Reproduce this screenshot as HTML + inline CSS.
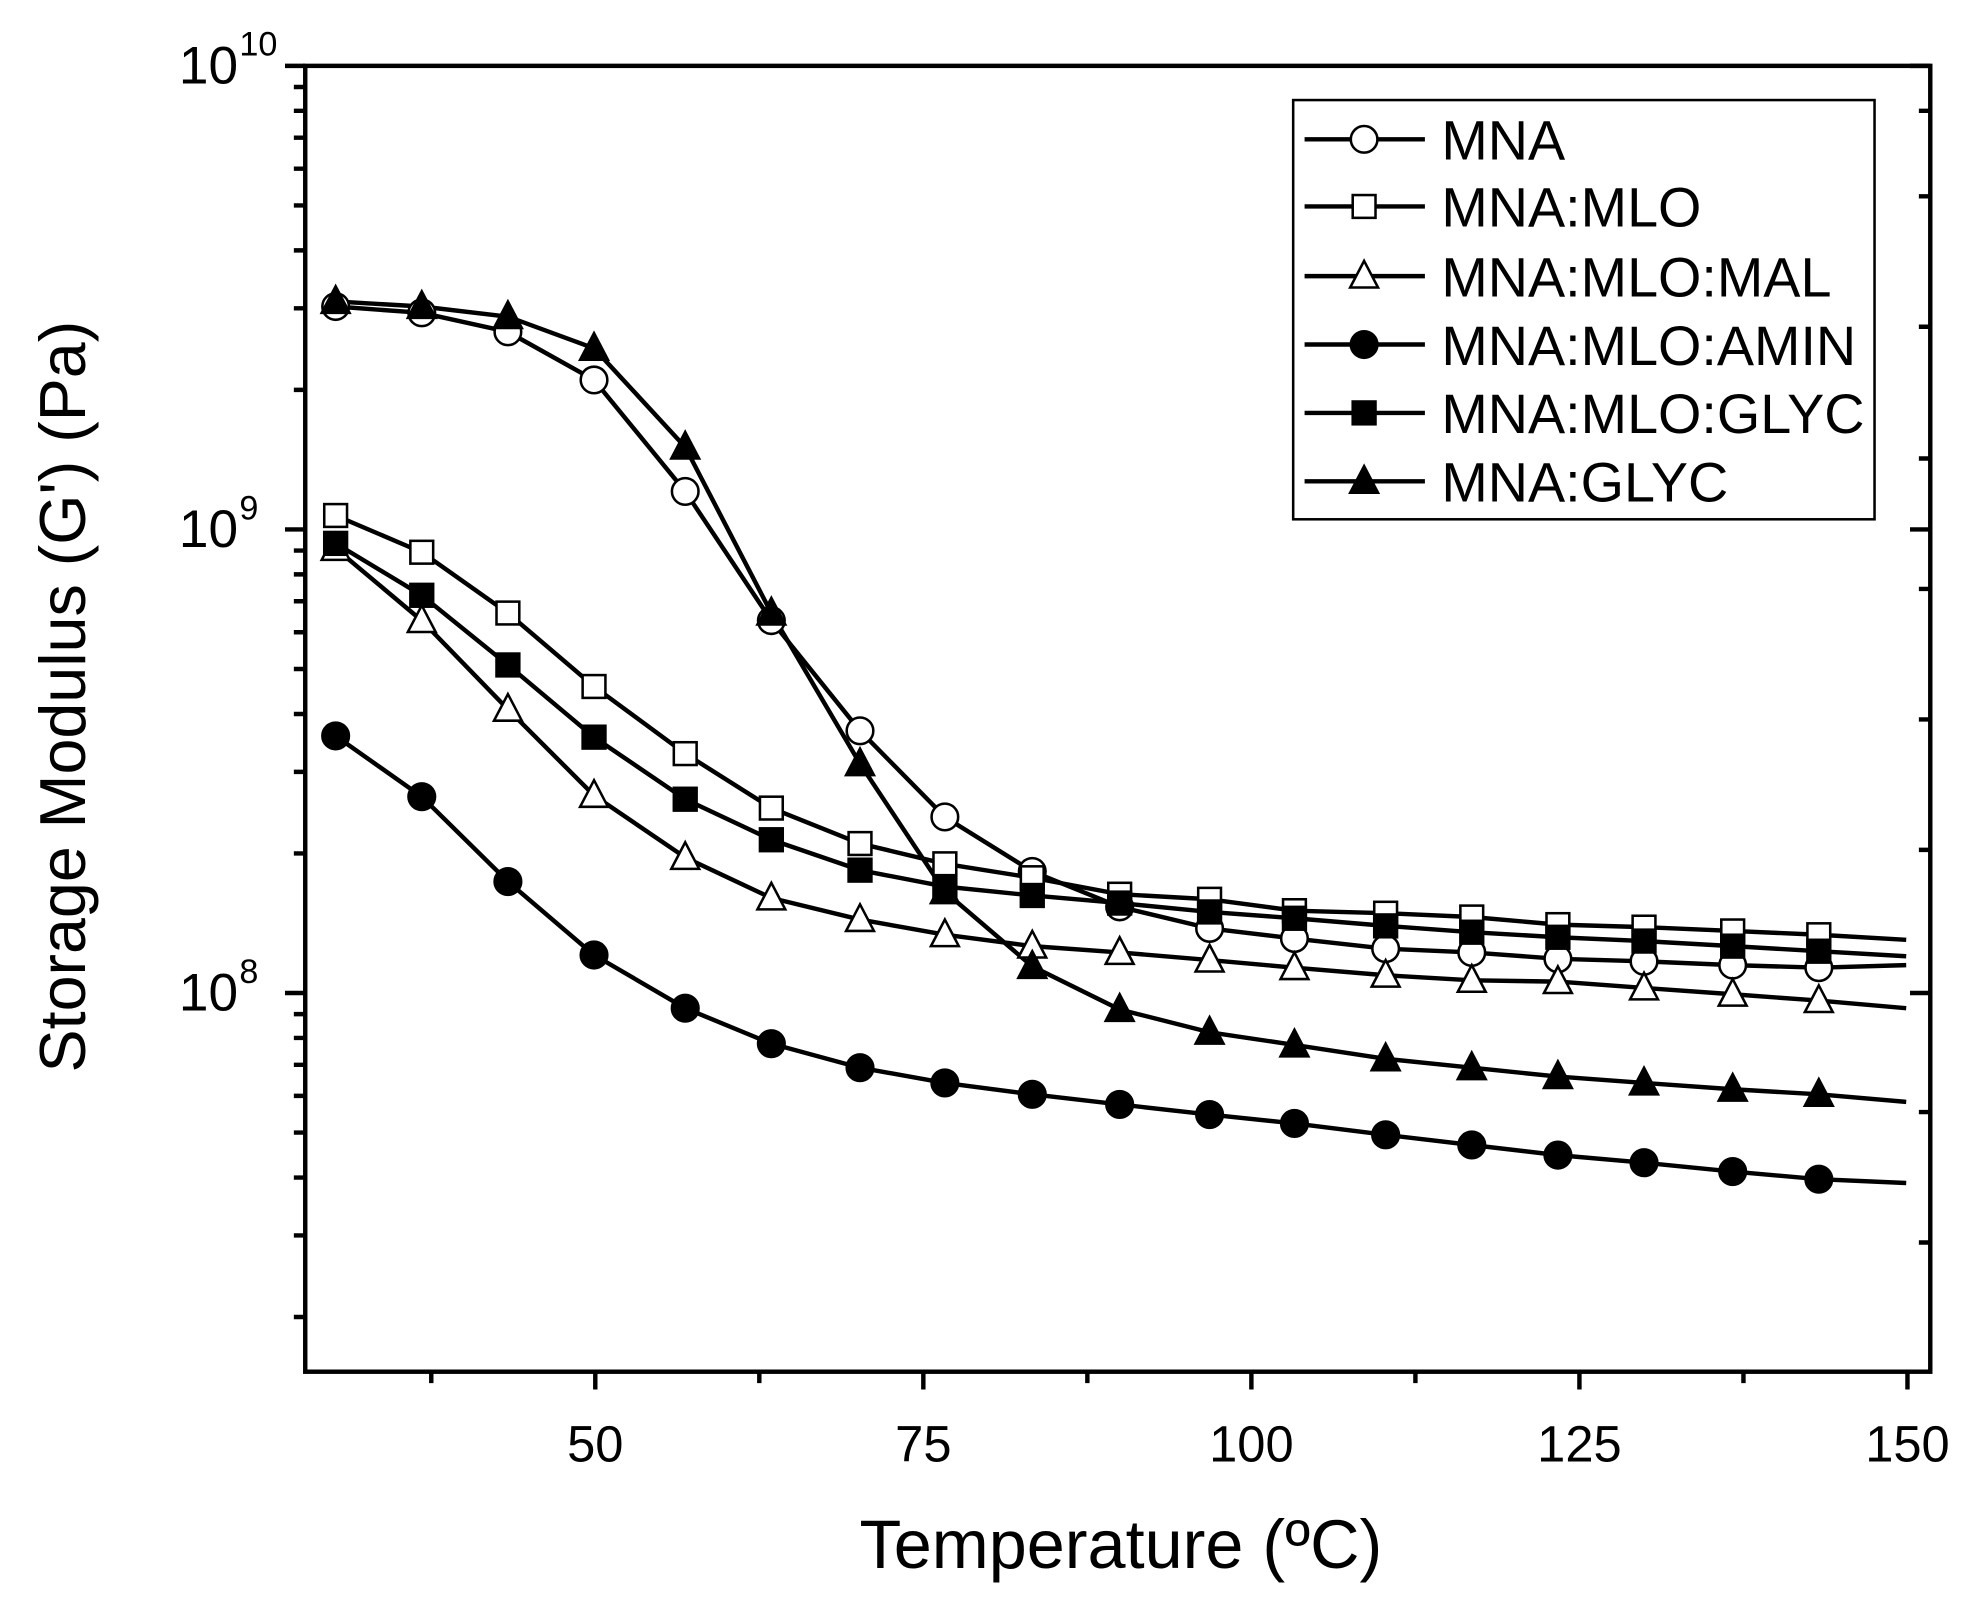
<!DOCTYPE html>
<html><head><meta charset="utf-8"><style>html,body{margin:0;padding:0;background:#fff}svg{display:block}</style></head>
<body>
<svg width="1986" height="1604" viewBox="0 0 1568 1266.4" preserveAspectRatio="none" xmlns="http://www.w3.org/2000/svg" font-family="'Liberation Sans', Arial, sans-serif">
<rect width="1568" height="1266.4" fill="#fff"/>
<g stroke="#000" stroke-width="3.5" fill="none">
<rect x="241" y="52" width="1283" height="1031"/>
<path d="M241 52h-16M241 418h-16M241 784h-16"/>
<path d="M241 68.7h-9M241 87.5h-9M241 108.7h-9M241 133.2h-9M241 162.2h-9M241 197.7h-9M241 243.4h-9M241 307.8h-9
M241 434.7h-9M241 453.5h-9M241 474.7h-9M241 499.2h-9M241 528.2h-9M241 563.7h-9M241 609.4h-9M241 673.8h-9
M241 800.7h-9M241 819.5h-9M241 840.7h-9M241 865.2h-9M241 894.2h-9M241 929.7h-9M241 975.4h-9M241 1039.8h-9"/>
<path d="M1524 52h-16M1524 418h-16M1524 784h-16
M1524 87.5h-9M1524 155h-9M1524 258h-9M1524 362h-9M1524 465h-9M1524 568h-9M1524 671h-9M1524 878h-9M1524 981h-9"/>
<path d="M470 1083v14M729 1083v14M988 1083v14M1247 1083v14M1506 1083v14
M340.5 1083v9M599.5 1083v9M858.5 1083v9M1117.5 1083v9M1376.5 1083v9"/>
</g>
<g font-size="40" fill="#000">
<text x="470" y="1154" text-anchor="middle">50</text>
<text x="729" y="1154" text-anchor="middle">75</text>
<text x="988" y="1154" text-anchor="middle">100</text>
<text x="1247" y="1154" text-anchor="middle">125</text>
<text x="1506" y="1154" text-anchor="middle">150</text>
<text x="188" y="66" text-anchor="end" font-size="42">10</text><text x="189" y="44" font-size="27">10</text>
<text x="188" y="432" text-anchor="end" font-size="42">10</text><text x="189" y="410" font-size="27">9</text>
<text x="188" y="798" text-anchor="end" font-size="42">10</text><text x="189" y="776" font-size="27">8</text>
</g>
<text x="885" y="1238" font-size="54" text-anchor="middle">Temperature (ºC)</text>
<text transform="translate(67,550) rotate(-90)" font-size="51" text-anchor="middle">Storage Modulus (G') (Pa)</text>

<g stroke="#000" stroke-width="3.5" fill="none" stroke-linejoin="round">
<polyline points="258,241 265,242 333,247 401,262 469,300 541,388 609,490 679,577 746,645 815,688 884,716 955,733 1022,741 1094,749 1162,752 1230,757 1298,759 1368,762 1436,764 1505,762"/>
<polyline points="258,238 265,238 333,242 401,250 469,275 541,353 609,484 679,603 746,704 815,763 884,797 955,815 1022,825 1094,836 1162,843 1230,850 1298,855 1368,860 1436,864 1505,870"/>
<polyline points="258,405 265,407 333,436 401,484 469,542 541,595 609,638 679,666 746,682 815,693 884,706 955,710 1022,719 1094,721 1162,724 1230,730 1298,732 1368,735 1436,738 1505,742"/>
<polyline points="258,428 265,429 333,470 401,525 469,582 541,631 609,663 679,687 746,700 815,707 884,713 955,720 1022,725 1094,731 1162,736 1230,740 1298,743 1368,747 1436,751 1505,755"/>
<polyline points="258,432 265,433 333,490 401,560 469,628 541,677 609,709 679,726 746,738 815,747 884,752 955,758 1022,764 1094,770 1162,774 1230,775 1298,780 1368,785 1436,790 1505,796"/>
<polyline points="258,577 265,581 333,629 401,696 469,754 541,796 609,824 679,843 746,855 815,864 884,872 955,880 1022,887 1094,896 1162,904 1230,912 1298,918 1368,925 1436,931 1505,934"/>
</g>

<defs>
<circle id="oc" r="10.5" fill="#fff" stroke="#000" stroke-width="2"/>
<circle id="fc" r="10.5" fill="#000" stroke="#000" stroke-width="2"/>
<rect id="os" x="-9" y="-9" width="18" height="18" fill="#fff" stroke="#000" stroke-width="2"/>
<rect id="fs" x="-9" y="-9" width="18" height="18" fill="#000" stroke="#000" stroke-width="2"/>
<path id="ot" d="M0 -12 L11 9 L-11 9 Z" fill="#fff" stroke="#000" stroke-width="2"/>
<path id="ft" d="M0 -12 L11 9 L-11 9 Z" fill="#000" stroke="#000" stroke-width="2"/>
</defs>
<g>
<use href="#oc" x="265" y="242"/><use href="#oc" x="333" y="247"/><use href="#oc" x="401" y="262"/><use href="#oc" x="469" y="300"/><use href="#oc" x="541" y="388"/><use href="#oc" x="609" y="490"/><use href="#oc" x="679" y="577"/><use href="#oc" x="746" y="645"/><use href="#oc" x="815" y="688"/><use href="#oc" x="884" y="716"/><use href="#oc" x="955" y="733"/><use href="#oc" x="1022" y="741"/><use href="#oc" x="1094" y="749"/><use href="#oc" x="1162" y="752"/><use href="#oc" x="1230" y="757"/><use href="#oc" x="1298" y="759"/><use href="#oc" x="1368" y="762"/><use href="#oc" x="1436" y="764"/>
<use href="#os" x="265" y="407"/><use href="#os" x="333" y="436"/><use href="#os" x="401" y="484"/><use href="#os" x="469" y="542"/><use href="#os" x="541" y="595"/><use href="#os" x="609" y="638"/><use href="#os" x="679" y="666"/><use href="#os" x="746" y="682"/><use href="#os" x="815" y="693"/><use href="#os" x="884" y="706"/><use href="#os" x="955" y="710"/><use href="#os" x="1022" y="719"/><use href="#os" x="1094" y="721"/><use href="#os" x="1162" y="724"/><use href="#os" x="1230" y="730"/><use href="#os" x="1298" y="732"/><use href="#os" x="1368" y="735"/><use href="#os" x="1436" y="738"/>
<use href="#ot" x="265" y="433"/><use href="#ot" x="333" y="490"/><use href="#ot" x="401" y="560"/><use href="#ot" x="469" y="628"/><use href="#ot" x="541" y="677"/><use href="#ot" x="609" y="709"/><use href="#ot" x="679" y="726"/><use href="#ot" x="746" y="738"/><use href="#ot" x="815" y="747"/><use href="#ot" x="884" y="752"/><use href="#ot" x="955" y="758"/><use href="#ot" x="1022" y="764"/><use href="#ot" x="1094" y="770"/><use href="#ot" x="1162" y="774"/><use href="#ot" x="1230" y="775"/><use href="#ot" x="1298" y="780"/><use href="#ot" x="1368" y="785"/><use href="#ot" x="1436" y="790"/>
<use href="#fs" x="265" y="429"/><use href="#fs" x="333" y="470"/><use href="#fs" x="401" y="525"/><use href="#fs" x="469" y="582"/><use href="#fs" x="541" y="631"/><use href="#fs" x="609" y="663"/><use href="#fs" x="679" y="687"/><use href="#fs" x="746" y="700"/><use href="#fs" x="815" y="707"/><use href="#fs" x="884" y="713"/><use href="#fs" x="955" y="720"/><use href="#fs" x="1022" y="725"/><use href="#fs" x="1094" y="731"/><use href="#fs" x="1162" y="736"/><use href="#fs" x="1230" y="740"/><use href="#fs" x="1298" y="743"/><use href="#fs" x="1368" y="747"/><use href="#fs" x="1436" y="751"/>
<use href="#fc" x="265" y="581"/><use href="#fc" x="333" y="629"/><use href="#fc" x="401" y="696"/><use href="#fc" x="469" y="754"/><use href="#fc" x="541" y="796"/><use href="#fc" x="609" y="824"/><use href="#fc" x="679" y="843"/><use href="#fc" x="746" y="855"/><use href="#fc" x="815" y="864"/><use href="#fc" x="884" y="872"/><use href="#fc" x="955" y="880"/><use href="#fc" x="1022" y="887"/><use href="#fc" x="1094" y="896"/><use href="#fc" x="1162" y="904"/><use href="#fc" x="1230" y="912"/><use href="#fc" x="1298" y="918"/><use href="#fc" x="1368" y="925"/><use href="#fc" x="1436" y="931"/>
<use href="#ft" x="265" y="238"/><use href="#ft" x="333" y="242"/><use href="#ft" x="401" y="250"/><use href="#ft" x="469" y="275"/><use href="#ft" x="541" y="353"/><use href="#ft" x="609" y="484"/><use href="#ft" x="679" y="603"/><use href="#ft" x="746" y="704"/><use href="#ft" x="815" y="763"/><use href="#ft" x="884" y="797"/><use href="#ft" x="955" y="815"/><use href="#ft" x="1022" y="825"/><use href="#ft" x="1094" y="836"/><use href="#ft" x="1162" y="843"/><use href="#ft" x="1230" y="850"/><use href="#ft" x="1298" y="855"/><use href="#ft" x="1368" y="860"/><use href="#ft" x="1436" y="864"/>
</g>

<rect x="1021" y="79" width="459" height="331" fill="#fff" stroke="#000" stroke-width="2"/>
<g stroke="#000" stroke-width="3.5">
<path d="M1030 110h95M1030 163h95M1030 218h95M1030 272h95M1030 326h95M1030 380h95"/>
</g>
<use href="#oc" x="1077" y="110"/>
<use href="#os" x="1077" y="163"/>
<use href="#ot" x="1077" y="218"/>
<use href="#fc" x="1077" y="272"/>
<use href="#fs" x="1077" y="326"/>
<use href="#ft" x="1077" y="380"/>
<g font-size="44" fill="#000">
<text x="1138" y="126">MNA</text>
<text x="1138" y="179">MNA:MLO</text>
<text x="1138" y="234">MNA:MLO:MAL</text>
<text x="1138" y="288">MNA:MLO:AMIN</text>
<text x="1138" y="342">MNA:MLO:GLYC</text>
<text x="1138" y="396">MNA:GLYC</text>
</g>
</svg>
</body></html>
